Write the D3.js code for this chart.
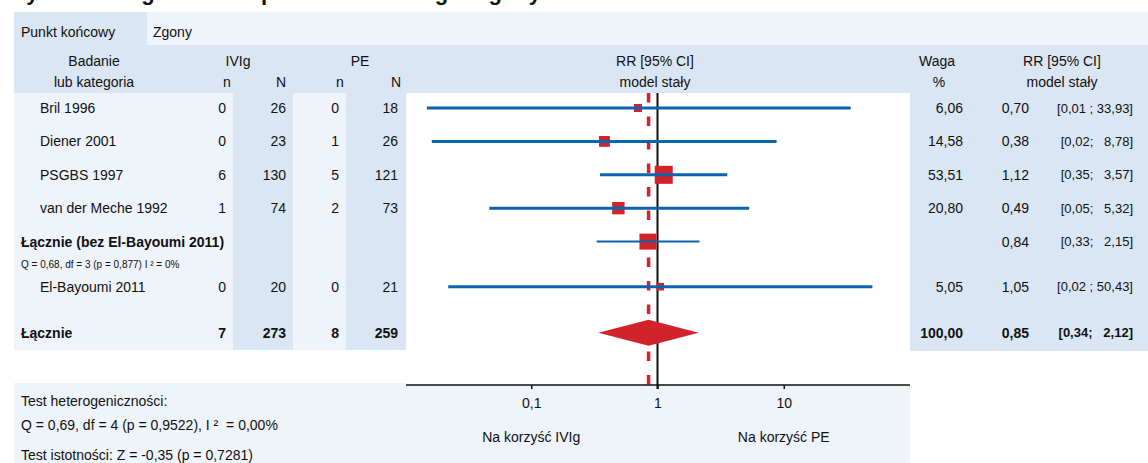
<!DOCTYPE html>
<html>
<head>
<meta charset="utf-8">
<script src="https://cdn.jsdelivr.net/npm/d3@7"></script>
<style>
  body { margin: 0; background: #fff; }
  svg text { font-family: "Liberation Sans", Arial, sans-serif; fill: #111; }
</style>
</head>
<body>
<div id="chart"></div>
<script>
// data
const studyNames = ["Bril 1996", "Diener 2001", "PSGBS 1997", "van der Meche 1992", "El-Bayoumi 2011"];
const ivigEvents = [0, 0, 6, 1, 0];
const ivigTotal = [26, 23, 130, 74, 20];
const peEvents = [0, 1, 5, 2, 0];
const peTotal = [18, 26, 121, 73, 21];
const weights = [6.06, 14.58, 53.51, 20.80, 5.05];
const rr = [0.70, 0.38, 1.12, 0.49, 1.05];
const ciLow = [0.0149, 0.0163, 0.35, 0.0465, 0.022];
const ciHigh = [33.93, 8.78, 3.57, 5.32, 50.43];

const subtotal = { label: "Łącznie (bez El-Bayoumi 2011)", rr: 0.84, lo: 0.33, hi: 2.15 };
const subtotalHet = "Q = 0,68, df = 3 (p = 0,877) I ² = 0%";
const total = { label: "Łącznie", ivigN: 7, ivigT: 273, peN: 8, peT: 259, w: 100, rr: 0.85, lo: 0.34, hi: 2.12 };

const tickValues = [0.1, 1, 10];
const favourLabels = ["Na korzyść IVIg", "Na korzyść PE"];
const bottomText = ["Test heterogeniczności:", "Q = 0,69, df = 4 (p = 0,9522), I ²  = 0,00%", "Test istotności: Z = -0,35 (p = 0,7281)"];

const width = 1148, height = 463;
const dark = "#dae6f3", light = "#eef4fa", blue = "#0d63ad", red = "#d2222a";

const fmt = v => v.toFixed(2).replace(".", ",");

const svg = d3.select("#chart").append("svg")
  .attr("width", width).attr("height", height);

// scales
const xScale = d3.scaleLog().domain([0.01, 100]).range([405, 910]);
const yScale = d3.scaleLinear().domain([0, 1]).range([108, 141.4]);
const boxSize = d3.scaleSqrt().domain([0, 53.51]).range([3, 18]);

// slots: four studies, subtotal, el-bayoumi, total
const rows = studyNames.map((name, i) => ({
  name, i, slot: i < 4 ? i : 5.35,
  n1: ivigEvents[i], t1: ivigTotal[i], n2: peEvents[i], t2: peTotal[i],
  w: weights[i], rr: rr[i], lo: ciLow[i], hi: ciHigh[i]
}));

// title (mostly cut off at the top)
svg.append("text").attr("x", 6).attr("y", 0)
  .style("font-size", "22px").style("font-weight", "bold")
  .text("Wyniki szczegółowe dla punktu końcowego: Zgony");

// backgrounds
const bg = [
  [14, 12, 133, 33, dark], [147, 12, 1001, 33, light],
  [14, 45, 1134, 48, dark],
  [14, 93, 392, 257, light], [233, 93, 60, 257, dark], [346, 93, 60, 257, dark],
  [406, 93, 504, 292, "#fff"], [910, 93, 238, 258, dark],
  [14, 383, 392, 80, light], [406, 385, 504, 78, light]
];
svg.selectAll("rect.bg").data(bg).join("rect").attr("class", "bg")
  .attr("x", d => d[0]).attr("y", d => d[1]).attr("width", d => d[2]).attr("height", d => d[3])
  .attr("fill", d => d[4]);

function txt(x, y, s, anchor, opts = {}) {
  return svg.append("text").attr("x", x).attr("y", y).attr("dy", "0.35em")
    .attr("text-anchor", anchor || "start")
    .style("font-size", (opts.size || 14) + "px")
    .style("font-weight", opts.bold ? "bold" : "normal")
    .style("white-space", "pre")
    .text(s);
}

// header
txt(21, 32, "Punkt końcowy");
txt(153, 32, "Zgony");
txt(94, 61, "Badanie", "middle");
txt(94, 82, "lub kategoria", "middle");
txt(238, 61, "IVIg", "middle");
txt(227, 82, "n", "middle");
txt(281, 82, "N", "middle");
txt(360, 61, "PE", "middle");
txt(340, 82, "n", "middle");
txt(396, 82, "N", "middle");
txt(655, 61, "RR [95% CI]", "middle");
txt(655, 82, "model stały", "middle");
txt(937, 61, "Waga", "middle");
txt(939, 82, "%", "middle");
txt(1062, 61, "RR [95% CI]", "middle");
txt(1062, 82, "model stały", "middle");

// table text
function ciText(y, lo, hi, bold) {
  const s = hi >= 10 ? "[" + fmt(lo) + " ; " + fmt(hi) + "]" : "[" + fmt(lo) + ";   " + fmt(hi) + "]";
  txt(1133, y, s, "end", { bold, size: 13 });
}

rows.forEach(d => {
  const y = yScale(d.slot);
  txt(40, y, d.name);
  txt(226, y, d.n1, "end");
  txt(286, y, d.t1, "end");
  txt(339, y, d.n2, "end");
  txt(398, y, d.t2, "end");
  txt(963, y, fmt(d.w), "end");
  txt(1029, y, fmt(d.rr), "end");
  ciText(y, d.lo, d.hi, false);
});

const ySub = yScale(4);
txt(21, ySub, subtotal.label, "start", { bold: true });
txt(21, yScale(4.68), subtotalHet, "start", { size: 10 });
txt(1029, ySub, fmt(subtotal.rr), "end");
ciText(ySub, subtotal.lo, subtotal.hi, false);

const yTot = yScale(6.73);
txt(21, yTot, total.label, "start", { bold: true });
txt(226, yTot, total.ivigN, "end", { bold: true });
txt(286, yTot, total.ivigT, "end", { bold: true });
txt(339, yTot, total.peN, "end", { bold: true });
txt(398, yTot, total.peT, "end", { bold: true });
txt(963, yTot, fmt(total.w), "end", { bold: true });
txt(1029, yTot, fmt(total.rr), "end", { bold: true });
ciText(yTot, total.lo, total.hi, true);

// reference lines
svg.append("line")
  .attr("x1", xScale(1)).attr("x2", xScale(1)).attr("y1", 93).attr("y2", 389)
  .attr("stroke", "#111").attr("stroke-width", 2);
svg.append("line")
  .attr("x1", xScale(total.rr)).attr("x2", xScale(total.rr)).attr("y1", 93).attr("y2", 385)
  .attr("stroke", red).attr("stroke-width", 3.5).attr("stroke-dasharray", "9.5,14");

// study boxes and CI lines
svg.selectAll("rect.box").data(rows).join("rect").attr("class", "box")
  .attr("x", d => xScale(d.rr) - boxSize(d.w) / 2)
  .attr("y", d => yScale(d.slot) - boxSize(d.w) / 2)
  .attr("width", d => boxSize(d.w)).attr("height", d => boxSize(d.w))
  .attr("fill", red);
svg.selectAll("line.ci").data(rows).join("line").attr("class", "ci")
  .attr("x1", d => xScale(d.lo)).attr("x2", d => xScale(d.hi))
  .attr("y1", d => yScale(d.slot)).attr("y2", d => yScale(d.slot))
  .attr("stroke", blue).attr("stroke-width", 3);

// subtotal
svg.append("rect")
  .attr("x", xScale(subtotal.rr) - 8.5).attr("y", ySub - 8).attr("width", 17).attr("height", 16)
  .attr("fill", red);
svg.append("line")
  .attr("x1", xScale(subtotal.lo)).attr("x2", xScale(subtotal.hi))
  .attr("y1", ySub).attr("y2", ySub)
  .attr("stroke", blue).attr("stroke-width", 2);

// total diamond
svg.append("path")
  .attr("d", d3.line()([
    [xScale(total.lo), yTot], [xScale(total.rr), yTot - 13],
    [xScale(total.hi), yTot], [xScale(total.rr), yTot + 13]
  ]) + "Z")
  .attr("fill", red);

// axis
const xAxis = d3.axisBottom(xScale)
  .tickValues(tickValues)
  .tickFormat(d => String(d).replace(".", ","))
  .tickSize(4).tickSizeOuter(0).tickPadding(9);
const gx = svg.append("g").attr("transform", "translate(0,385)").call(xAxis);
gx.select(".domain").attr("stroke", "#111").attr("stroke-width", 1.5).attr("d", "M406,0H910");
gx.selectAll(".tick line").attr("stroke", "#111").attr("stroke-width", 1.5);
gx.selectAll(".tick text").style("font-size", "14px").style("font-family", "Liberation Sans, Arial, sans-serif").attr("fill", "#111");

txt(xScale(0.1), 437, favourLabels[0], "middle");
txt(xScale(10), 437, favourLabels[1], "middle");

// bottom stats
txt(21, 401, bottomText[0]);
txt(21, 425, bottomText[1]);
txt(21, 455, bottomText[2]);
</script>
</body>
</html>
